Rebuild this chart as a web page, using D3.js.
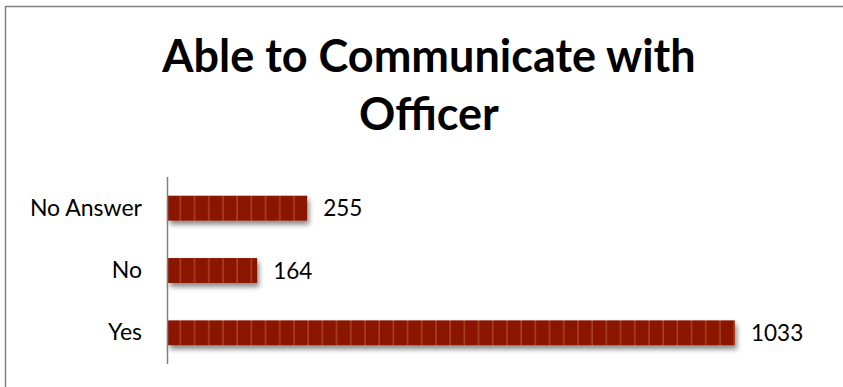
<!DOCTYPE html>
<html>
<head>
<meta charset="utf-8">
<script src="https://cdn.jsdelivr.net/npm/d3@7"></script>
<style>
  html, body { margin: 0; padding: 0; background: #fff; overflow: hidden; }
  svg { display: block; }
</style>
</head>
<body>
<svg id="chart" width="843" height="387"></svg>
<script>
// Responses to "Able to Communicate with Officer"
const categories = ["No Answer", "No", "Yes"];
const counts = [255, 164, 1033];
const titleLines = ["Able to Communicate with", "Officer"];

const W = 843, H = 387;
const svg = d3.select("#chart");
const font = "Lato, 'Open Sans', sans-serif";

const defs = svg.append("defs");

// soft shadow under each bar
const shadow = defs.append("filter").attr("id", "barShadow")
  .attr("x", "-5%").attr("y", "-30%").attr("width", "115%").attr("height", "180%");
shadow.append("feDropShadow")
  .attr("dx", 2).attr("dy", 4).attr("stdDeviation", 2.5)
  .attr("flood-color", "#000").attr("flood-opacity", 0.45);

// vertical stripe fill
const pat = defs.append("pattern").attr("id", "stripes")
  .attr("patternUnits", "userSpaceOnUse")
  .attr("x", 167).attr("y", 0)
  .attr("width", 14.2).attr("height", 10);
pat.append("rect").attr("width", 14.2).attr("height", 10).attr("fill", "#8b1400");
pat.append("rect").attr("x", 12.6).attr("width", 1.6).attr("height", 10).attr("fill", "#a8421c");

// chart frame: top and left edges only
const frame = svg.append("g").attr("stroke", "#7f7f7f").attr("stroke-width", 1.5);
frame.append("line").attr("x1", 5).attr("x2", W + 10).attr("y1", 6.5).attr("y2", 6.5);
frame.append("line").attr("x1", 5.5).attr("x2", 5.5).attr("y1", 6).attr("y2", H + 10);

// title
svg.append("g").selectAll("text").data(titleLines).join("text")
  .attr("x", 429).attr("y", (d, i) => 72 + i * 58)
  .attr("text-anchor", "middle")
  .attr("font-family", font).attr("font-weight", "bold")
  .attr("font-size", 45).attr("fill", "#000")
  .text(d => d);

const margin = { left: 167, top: 177, bottom: 364 };
const x = d3.scaleLinear().domain([0, 1033]).range([margin.left, 735]);
const y = d3.scaleBand().domain(categories).range([margin.top, margin.bottom]).paddingInner(0.6).paddingOuter(0.3);

// bars
svg.append("g").selectAll("rect").data(categories).join("rect")
  .attr("x", x(0) + 1)
  .attr("y", d => y(d))
  .attr("width", (d, i) => x(counts[i]) - x(0) - 1)
  .attr("height", y.bandwidth())
  .attr("fill", "url(#stripes)")
  .attr("filter", "url(#barShadow)");

// value labels
svg.append("g").selectAll("text").data(categories).join("text")
  .attr("x", (d, i) => x(counts[i]) + 16)
  .attr("y", d => y(d) + y.bandwidth() / 2)
  .attr("dy", "0.36em")
  .attr("font-family", font).attr("font-size", 22.5).attr("fill", "#000")
  .text((d, i) => counts[i]);

// category axis
const yAxis = svg.append("g").attr("transform", `translate(${margin.left},0)`)
  .call(d3.axisLeft(y).tickSize(0).tickPadding(25));
yAxis.select(".domain").attr("stroke", "#808080").attr("stroke-width", 1.5)
  .attr("d", `M0.5,${margin.top}V${margin.bottom}`);
yAxis.selectAll("text").attr("font-family", font).attr("font-size", 23).attr("fill", "#000");
</script>
</body>
</html>
